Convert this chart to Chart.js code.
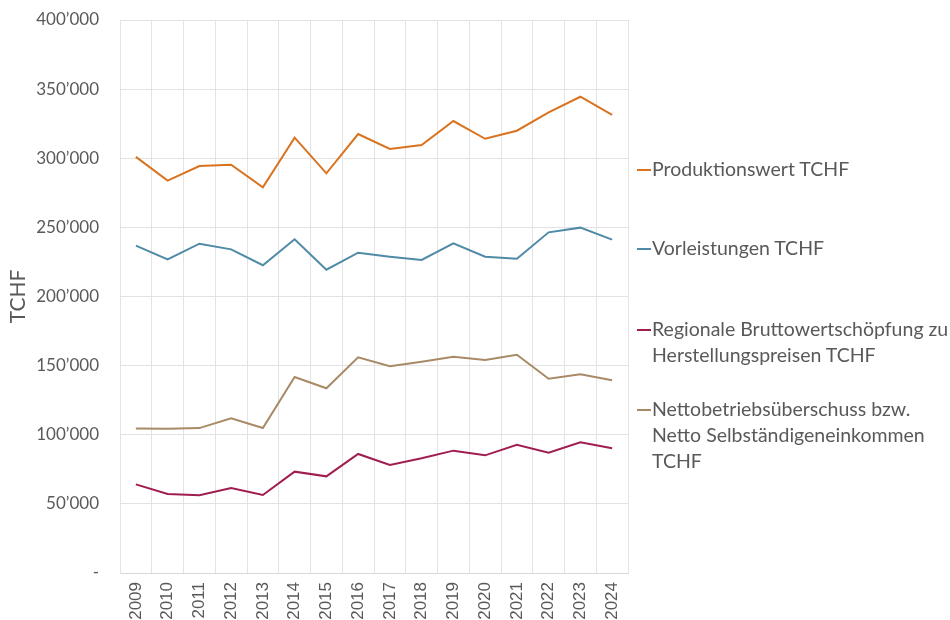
<!DOCTYPE html>
<html>
<head>
<meta charset="utf-8">
<script src="https://cdn.jsdelivr.net/npm/chart.js@4"></script>
<style>
  html, body { margin: 0; padding: 0; background: #fff; }
  #wrap { position: relative; width: 950px; height: 620px; }
  #legend { position: absolute; left: 637px; top: 0; font-family: Lato, sans-serif; font-size: 19.5px; color: #595959; }
  .legend-row { position: absolute; white-space: nowrap; line-height: 26px; }
  .legend-row .mark { display: inline-block; width: 14px; height: 2px; vertical-align: middle; margin-right: 1px; position: relative; top: -1px; }
  .legend-row .txt { display: inline-block; vertical-align: top; }
</style>
</head>
<body>
<div id="wrap">
  <canvas id="chart" width="950" height="620"></canvas>
  <div id="legend"></div>
</div>
<script>
const years = ["2009", "2010", "2011", "2012", "2013", "2014", "2015", "2016",
               "2017", "2018", "2019", "2020", "2021", "2022", "2023", "2024"];

const produktionswert = [301000, 283800, 294400, 295300, 279000, 314900, 289100, 317500,
                         306700, 309600, 326900, 314100, 319900, 333200, 344500, 331300];
const vorleistungen   = [236800, 226900, 238200, 234100, 222600, 241400, 219400, 231700,
                         228800, 226400, 238500, 228800, 227300, 246400, 249800, 241100];
const bruttowert      = [64100, 57100, 56200, 61500, 56400, 73300, 69900, 86100,
                         78100, 83000, 88500, 85100, 92800, 87000, 94500, 90200];
const nettobetrieb    = [104600, 104300, 104800, 111900, 104900, 141800, 133600, 156000,
                         149500, 152800, 156500, 154100, 157900, 140500, 143700, 139400];

const seriesNames = [
    "Produktionswert TCHF",
    "Vorleistungen TCHF",
    "Regionale Bruttowertschöpfung zu\nHerstellungspreisen TCHF",
    "Nettobetriebsüberschuss bzw.\nNetto Selbständigeneinkommen\nTCHF"
];
const seriesColors = ["#d9731f", "#4f8aa6", "#a01d50", "#a88a66"];
const legendTops = [156, 235, 316, 396];

const yTicks = [0, 50000, 100000, 150000, 200000, 250000, 300000, 350000, 400000];

function fmt(v) {
    if (v === 0) return "-";
    return String(v).replace(/\B(?=(\d{3})+(?!\d))/g, "\u2019");
}

const allSeries = [produktionswert, vorleistungen, bruttowert, nettobetrieb];

new Chart(document.getElementById("chart").getContext("2d"), {
    type: "line",
    data: {
        labels: years,
        datasets: allSeries.map((data, i) => ({
            label: seriesNames[i],
            data,
            borderColor: seriesColors[i],
            borderWidth: 2,
            pointRadius: 0,
            tension: 0,
            fill: false
        }))
    },
    options: {
        responsive: false,
        animation: false,
        layout: { padding: { top: 20, right: 322, left: 0, bottom: 0 } },
        plugins: { legend: { display: false }, tooltip: { enabled: false } },
        scales: {
            x: {
                offset: true,
                grid: { offset: true, color: "#e3e3e3", drawTicks: false },
                border: { color: "#d9d9d9" },
                ticks: {
                    color: "#595959",
                    font: { family: "Liberation Sans", size: 17 },
                    minRotation: 90, maxRotation: 90,
                    padding: 9
                },
                afterFit: s => { s.height = 47; }
            },
            y: {
                min: 0, max: 400000,
                afterBuildTicks: s => { s.ticks = yTicks.map(v => ({ value: v })); },
                grid: { color: "#e3e3e3", drawTicks: false },
                border: { color: "#e3e3e3" },
                ticks: {
                    color: "#595959",
                    font: { family: "Lato", size: 17 },
                    padding: 21,
                    callback: v => fmt(v)
                },
                title: {
                    display: true, text: "TCHF", color: "#595959",
                    font: { family: "Lato", size: 21 },
                    padding: { top: 6, bottom: 0 }
                },
                afterFit: s => {
                    s.width = 120;
                    s.paddingTop = 0;
                    s.paddingBottom = 0;
                }
            }
        }
    }
});

const legendEl = document.getElementById("legend");
seriesNames.forEach((name, i) => {
    const row = document.createElement("div");
    row.className = "legend-row";
    row.style.top = legendTops[i] + "px";
    const lines = name.split("\n");
    row.innerHTML = `<span class="mark" style="background:${seriesColors[i]}"></span><span class="txt">${lines.join("<br>")}</span>`;
    legendEl.appendChild(row);
});
</script>
</body>
</html>
